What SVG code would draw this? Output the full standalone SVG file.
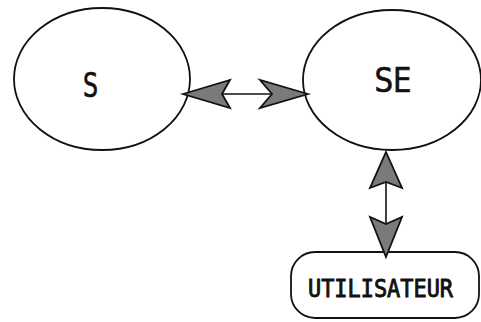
<svg xmlns="http://www.w3.org/2000/svg" width="481" height="322" viewBox="0 0 481 322">
<style>
.shape{fill:#fff;stroke:#111;stroke-width:1.8}
.lbl{font-family:"DejaVu Sans Condensed","Liberation Sans",sans-serif;fill:#111;stroke:#111;stroke-width:0.6;text-anchor:middle}
.shaft{stroke:#111;stroke-width:1.6;fill:none}
.head{fill:#7a7a7a;stroke:#111;stroke-width:1.8;stroke-linejoin:miter}
</style>
<rect width="481" height="322" fill="#fff"/>
<g id="node-S">
<ellipse class="shape" cx="102" cy="79" rx="88" ry="71"/>
<text class="lbl" x="90.5" y="97" font-size="34" textLength="15" lengthAdjust="spacingAndGlyphs">S</text>
</g>
<g id="node-SE">
<ellipse class="shape" cx="392" cy="80" rx="89" ry="70"/>
<text class="lbl" x="393" y="92" font-size="33" textLength="37" lengthAdjust="spacingAndGlyphs">SE</text>
</g>
<g id="node-UTILISATEUR">
<rect class="shape" x="291" y="252" width="188" height="66" rx="24" ry="24"/>
<text class="lbl" x="380.5" y="297" font-size="24" textLength="145" lengthAdjust="spacingAndGlyphs" style="font-family:'DejaVu Sans Mono','Liberation Mono',monospace;stroke-width:0.9">UTILISATEUR</text>
</g>
<g id="connectors">
<line class="shaft" x1="222" y1="94" x2="272" y2="94"/>
<polygon class="head" points="183,94 230,80 222,94 230,108"/>
<polygon class="head" points="308,94 260,80 272,94 260,108"/>
<line class="shaft" x1="386" y1="182" x2="386" y2="224"/>
<polygon class="head" points="386,152 402,188 386,182 370,188"/>
<polygon class="head" points="386,257 402,217 386,224 370,217"/>
</g>
</svg>
